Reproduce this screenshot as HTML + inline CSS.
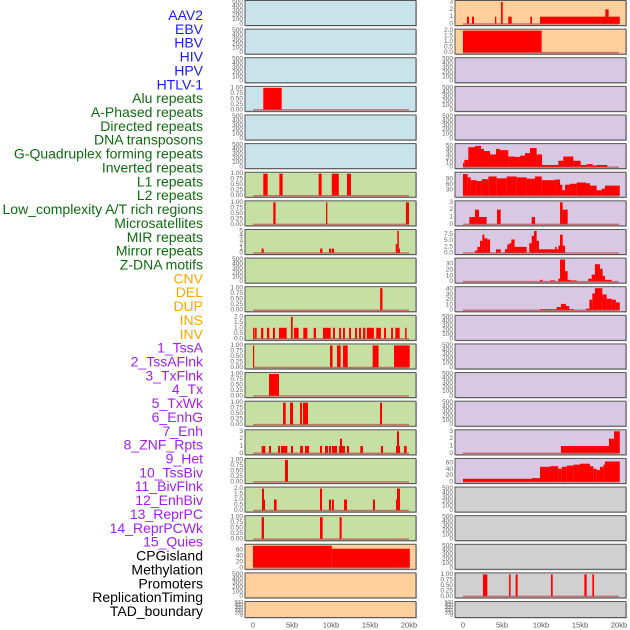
<!DOCTYPE html>
<html><head><meta charset="utf-8"><style>
html,body{margin:0;padding:0;background:#fff;}
svg{display:block;font-family:"Liberation Sans",sans-serif;}
</style></head><body>
<svg id="chart" width="630" height="630" viewBox="0 0 630 630"></svg>
<script>
// ---- data ----
const trackLabels = ["AAV2","EBV","HBV","HIV","HPV","HTLV-1","Alu repeats","A-Phased repeats","Directed repeats","DNA transposons","G-Quadruplex forming repeats","Inverted repeats","L1 repeats","L2 repeats","Low_complexity A/T rich regions","Microsatellites","MIR repeats","Mirror repeats","Z-DNA motifs","CNV","DEL","DUP","INS","INV","1_TssA","2_TssAFlnk","3_TxFlnk","4_Tx","5_TxWk","6_EnhG","7_Enh","8_ZNF_Rpts","9_Het","10_TssBiv","11_BivFlnk","12_EnhBiv","13_ReprPC","14_ReprPCWk","15_Quies","CPGisland","Methylation","Promoters","ReplicationTiming","TAD_boundary"];
const labelGroups = [6,13,5,15,5];
const groupColors = ["#1a1aff","#0f6b0f","#ffa500","#a020f0","#000000"];
const xTicks = [0,5,10,15,20];
const xTickLabels = ["0","5kb","10kb","15kb","20kb"];

// bars: [startKb, endKb, value]
const leftAlu = [[1.32,3.68,1]];
const leftL1 = [[1.32,1.88,1],[3.38,3.8,1],[8.42,8.8,1],[10.1,11.0,1],[12.05,12.56,1]];
const leftLowComplex = [[2.6,2.9,1],[9.36,9.53,1],[19.6,20.0,1]];
const leftMIR = [[1.1,1.37,1],[8.6,8.9,1],[9.75,10.0,1],[10.1,10.4,1],[18.3,18.5,2],[18.5,18.7,5],[18.7,18.85,1]];
const leftDEL = [[16.3,16.6,1]];
const leftINV = [[0,0.2,1],[0.26,0.47,1],[1.03,1.32,1],[1.79,2.09,1],[2.56,2.82,1],[3.33,4.32,1],[4.87,5.09,2],[5.26,5.85,1],[6.45,6.97,1],[7.78,8.08,1],[8.97,9.96,1],[10.26,10.51,1],[11.03,11.28,1],[11.54,11.79,1],[12.31,12.56,1],[13.08,13.33,1],[13.59,13.85,1],[14.1,14.4,1],[14.6,15.5,1],[15.8,16.4,1],[16.8,17.05,1],[17.7,17.95,1],[18.25,18.8,1],[19.5,19.7,1]];
const leftTssA = [[0,0.15,1],[9.87,10.2,1],[10.77,11.24,1],[11.54,12.14,1],[15.34,16.1,1],[18.08,20.09,1]];
const leftTxFlnk = [[2.05,3.33,1]];
const leftTxWk = [[3.85,4.19,1],[4.74,5.13,1],[6.03,6.28,1],[6.41,7.05,1],[16.28,16.54,1]];
const leftZNF = [[1.11,1.58,1],[2.05,2.31,1],[3.2,3.46,1],[3.59,4.4,1],[4.87,5.13,1],[6.03,6.41,1],[6.67,7.18,1],[8.59,8.85,1],[9.23,9.62,1],[9.74,10.0,1],[10.13,10.77,1],[11.03,11.79,1],[11.15,11.41,2],[12.05,12.31,1],[13.76,14.1,1],[16.4,16.67,1],[18.33,18.85,1],[18.46,18.72,3],[19.36,19.7,1]];
const leftTssBiv = [[4.1,4.49,1]];
const leftEnhBiv = [[1.15,1.41,2],[1.41,1.54,1],[2.69,3.03,1],[8.59,8.85,2],[9.74,10.0,1],[10.13,10.38,1],[11.67,12.05,1],[15.38,15.64,1],[18.33,18.59,1],[18.46,18.85,2]];
const leftReprPCWk = [[1.11,1.41,1],[8.59,8.93,1],[11.1,11.37,1]];
const leftCpG = [[0,10.1,75],[10.1,20.1,65]];

const rightR0 = [[0.51,0.77,1],[1.15,1.41,1],[4.1,4.27,1],[4.87,5.09,3],[5.81,6.24,1],[8.63,8.85,1],[9.87,20.1,1],[18.25,18.67,2]];
const rightR1 = [[0,10.08,2]];
const rightR5 = [[0,0.17,10],[0.17,0.68,17],[0.68,1.54,47],[1.54,2.31,50],[2.31,2.69,43],[2.69,3.46,38],[3.46,4.23,30],[4.23,4.74,43],[4.74,5.81,40],[5.81,6.67,25],[6.67,7.31,24],[7.31,7.95,27],[7.95,8.59,33],[8.59,9.44,45],[9.44,10.13,30],[10.13,12.22,5],[12.22,12.86,15],[12.86,14.15,25],[14.15,15.09,15],[15.09,15.85,5],[15.85,16.62,7],[16.62,17.14,4],[17.14,18.5,5]];
const rightR6 = [[0,0.6,118],[0.6,0.98,100],[0.98,1.75,85],[1.75,2.39,80],[2.39,3.25,90],[3.25,4.32,105],[4.32,5.6,95],[5.6,6.88,105],[6.88,8.16,100],[8.16,9.23,93],[9.23,10.09,105],[10.09,11.8,85],[11.8,12.44,88],[12.44,12.74,60],[12.74,13.08,30],[13.08,13.72,60],[13.72,14.57,65],[14.57,15.77,72],[15.77,16.28,68],[16.28,17.14,55],[17.14,17.78,30],[17.78,18.2,38],[18.2,20.1,55]];
const rightR7 = [[0.81,1.54,1],[1.54,2.05,2],[2.05,3.03,1],[4.36,4.83,2],[8.8,9.23,1],[12.44,12.78,3],[12.78,13.42,2]];
const rightR8 = [[1.54,1.84,1],[1.84,2.18,2.5],[2.18,2.48,5],[2.48,2.74,7.5],[2.74,3.12,6],[3.12,3.46,5.5],[4.23,4.83,1.5],[5.38,5.68,1.5],[5.68,5.94,3.5],[5.94,6.2,4],[6.2,6.62,5.5],[6.62,8.16,2.5],[8.5,8.8,4],[8.8,9.1,7],[9.1,9.44,9],[9.44,9.74,5],[9.74,11.8,1.5],[11.8,12.0,2.5],[12.0,12.22,1.5],[12.22,12.44,3],[12.44,12.78,7.5],[12.78,13.08,3]];
const rightR9 = [[9.87,10.2,3],[11.15,11.8,2],[12.22,12.44,5],[12.44,13.08,38],[13.08,13.42,18],[13.42,13.72,3],[13.72,14.57,2],[16.07,16.5,5],[16.5,16.92,12],[16.92,17.56,30],[17.56,17.9,22],[17.9,18.2,10],[18.2,19.06,3]];
const rightR10 = [[9.87,12.0,2],[12.0,12.56,6],[12.56,13.2,12],[13.2,13.63,8],[13.63,14.23,2],[15.77,16.2,3],[16.2,16.58,20],[16.58,16.92,32],[16.92,17.86,42],[17.86,18.42,30],[18.42,19.06,22],[19.06,19.6,20],[19.6,20.1,15]];
const rightR15 = [[12.56,18.72,1],[18.72,19.36,2],[19.36,20.1,3]];
const rightR16 = [[0,8.8,10],[8.8,9.87,12],[9.87,11.15,48],[11.15,12.22,50],[12.22,12.65,42],[12.65,13.3,48],[13.3,14.15,52],[14.15,15.0,55],[15.0,16.28,58],[16.28,16.7,50],[16.7,17.14,42],[17.14,17.56,38],[17.56,18.0,48],[18.0,18.2,55],[18.2,20.1,65]];
const rightR20 = [[2.56,3.12,1],[5.9,6.1,1],[6.75,7.0,1],[11.28,11.5,1],[15.56,15.85,1],[16.58,16.8,1]];

const tEmpty = [0,100,200,300,400,500];
const tUnit = [0,0.25,0.5,0.75,1];
const tTwo = [0,0.5,1,1.5,2];
const tThree = [0,1,2,3];

// ---- layout ----
const C = {blue:"#c8e4ea",green:"#c6e0a4",orange:"#ffd09c",purple:"#d8c8e4",gray:"#d0d0d0"};
const leftCols = [C.blue,C.blue,C.blue,C.blue,C.blue,C.blue,C.green,C.green,C.green,C.green,C.green,C.green,C.green,C.green,C.green,C.green,C.green,C.green,C.green,C.orange,C.orange,C.orange];
const rightCols = [C.orange,C.orange,C.purple,C.purple,C.purple,C.purple,C.purple,C.purple,C.purple,C.purple,C.purple,C.purple,C.purple,C.purple,C.purple,C.purple,C.purple,C.gray,C.gray,C.gray,C.gray,C.gray];
const leftSpec = [null,null,null,[leftAlu,1,tUnit,2],null,null,[leftL1,1,tUnit,2],[leftLowComplex,1,tUnit,2],[leftMIR,5,[0,1,2,3,4,5],0],null,[leftDEL,1,tUnit,2],[leftINV,2,tTwo,1],[leftTssA,1,tUnit,2],[leftTxFlnk,1,tUnit,2],[leftTxWk,1,tUnit,2],[leftZNF,3,tThree,0],[leftTssBiv,1,tUnit,2],[leftEnhBiv,2,tTwo,1],[leftReprPCWk,1,tUnit,2],[leftCpG,75,[0,20,40,60],0],null,null];
const rightSpec = [[rightR0,3,tThree,0],[rightR1,2,tTwo,1],null,null,null,[rightR5,52,[0,10,20,30,40,50],0],[rightR6,120,[30,60,90],0],[rightR7,3,tThree,0],[rightR8,9,[0,2.5,5,7.5],1],[rightR9,38,[0,10,20,30],0],[rightR10,42,[0,10,20,30,40],0],null,null,null,null,[rightR15,3,tThree,0],[rightR16,70,[0,20,40,60],0],null,null,null,[rightR20,1,tUnit,2],null];

const NS="http://www.w3.org/2000/svg";
const svg=document.getElementById('chart');
function mk(tag,attrs,parent){const e=document.createElementNS(NS,tag);for(const k in attrs)e.setAttribute(k,attrs[k]);(parent||svg).appendChild(e);return e;}

// labels
let li=0;
labelGroups.forEach((n,g)=>{for(let k=0;k<n;k++){const t=mk('text',{x:203,y:15+13.86*li,'text-anchor':'end','dominant-baseline':'central','font-size':'14',fill:groupColors[g]});


t.textContent=trackLabels[li];li++;}});

const cols=[{x0:245,x1:416,zero:253,tickX:243,cols:leftCols,spec:leftSpec,name:'left'},{x0:455,x1:626,zero:463,tickX:453,cols:rightCols,spec:rightSpec,name:'right'}];
const pxPerKb=7.8;
cols.forEach(col=>{
  const xs=kb=>col.zero+kb*pxPerKb;
  for(let r=0;r<22;r++){
    const top=0.5+28.62*r, h=(r===21?16:25), bot=top+h;
    const g=mk('g',{});
    
    
    mk('rect',{x:col.x0+1,y:top+1,width:col.x1-col.x0,height:h,fill:'#bbb'},g);
    mk('rect',{x:col.x0,y:top,width:col.x1-col.x0,height:h,fill:col.cols[r],stroke:'#555','stroke-width':1},g);
    const sp=col.spec[r];
    let bars=[],ymax=500,ticks=tEmpty,dec=0;
    if(sp){bars=sp[0];ymax=sp[1];ticks=sp[2];dec=sp[3];}
    const ys=v=>bot-1.5-(v/ymax)*(h-3);
    if(sp){
      bars.forEach(b=>{const rc=mk('rect',{x:xs(b[0]),y:ys(b[2]),width:Math.max(0.8,xs(b[1])-xs(b[0])),height:bot-1.5-ys(b[2]),fill:'#ff0000'},g);
        
        });
      const bl=mk('line',{x1:xs(0),x2:xs(20),y1:bot-1.5,y2:bot-1.5,stroke:'#c04848','stroke-width':1.5,'stroke-opacity':0.7},g);
      
      
    }
    ticks.forEach(tv=>{const t=mk('text',{x:col.tickX,y:ys(tv),'text-anchor':'end','dominant-baseline':'central','font-size':(r===21?'5':'6.5'),fill:'#666'},g);
      
      
      t.textContent=tv.toFixed(dec);});
  }
  xTicks.forEach((v,i)=>{const t=mk('text',{x:xs(v),y:625,'text-anchor':'middle','dominant-baseline':'central','font-size':'7.5',fill:'#555'});
    
    
    t.textContent=xTickLabels[i];});
});
</script>
</body></html>
